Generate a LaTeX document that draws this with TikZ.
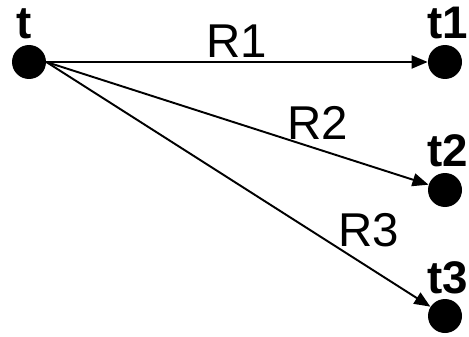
\documentclass[tikz,border=0pt]{standalone}
\usepackage{fontspec}
\setmainfont{Liberation Sans}
\usetikzlibrary{arrows.meta,positioning}

\begin{document}
\begin{tikzpicture}[>={Triangle[length=0.32cm,width=0.26cm]}]
\useasboundingbox (0,0) rectangle (9.38,6.72);
\tikzset{
  state/.style={circle,fill=black,inner sep=0pt,minimum size=0.68cm},
  statelabel/.style={font=\fontsize{26}{30}\selectfont\bfseries,inner sep=0pt},
  ratelabel/.style={font=\fontsize{27}{32}\selectfont,inner sep=0pt},
  rate/.style={->,line width=1.1pt}
}
% states
\node[state] (t)  at (0.58,5.48) {};
\node[state] (t1) at (8.90,5.48) {};
\node[state] (t2) at (8.90,2.92) {};
\node[state] (t3) at (8.90,0.40) {};
% state names
\node[statelabel,anchor=south] (tname)  at (0.48,5.94) {t};
\node[statelabel,anchor=south east] (t1name) at (9.36,5.94) {t1};
\node[statelabel,anchor=south east] (t2name) at (9.36,3.38) {t2};
\node[statelabel,anchor=south east] (t3name) at (9.36,0.84) {t3};
% transitions
\draw[rate] (t.east) -- (t1) node[ratelabel,pos=0.5,above=0.08cm] (r1) {R1};
\draw[rate] (t.east) -- (t2) node[ratelabel,pos=0.71,above=0.18cm] (r2) {R2};
\draw[rate] (t.east) -- (t3) node[ratelabel,pos=0.84,above=0.4cm] (r3) {R3};
\end{tikzpicture}
\end{document}
